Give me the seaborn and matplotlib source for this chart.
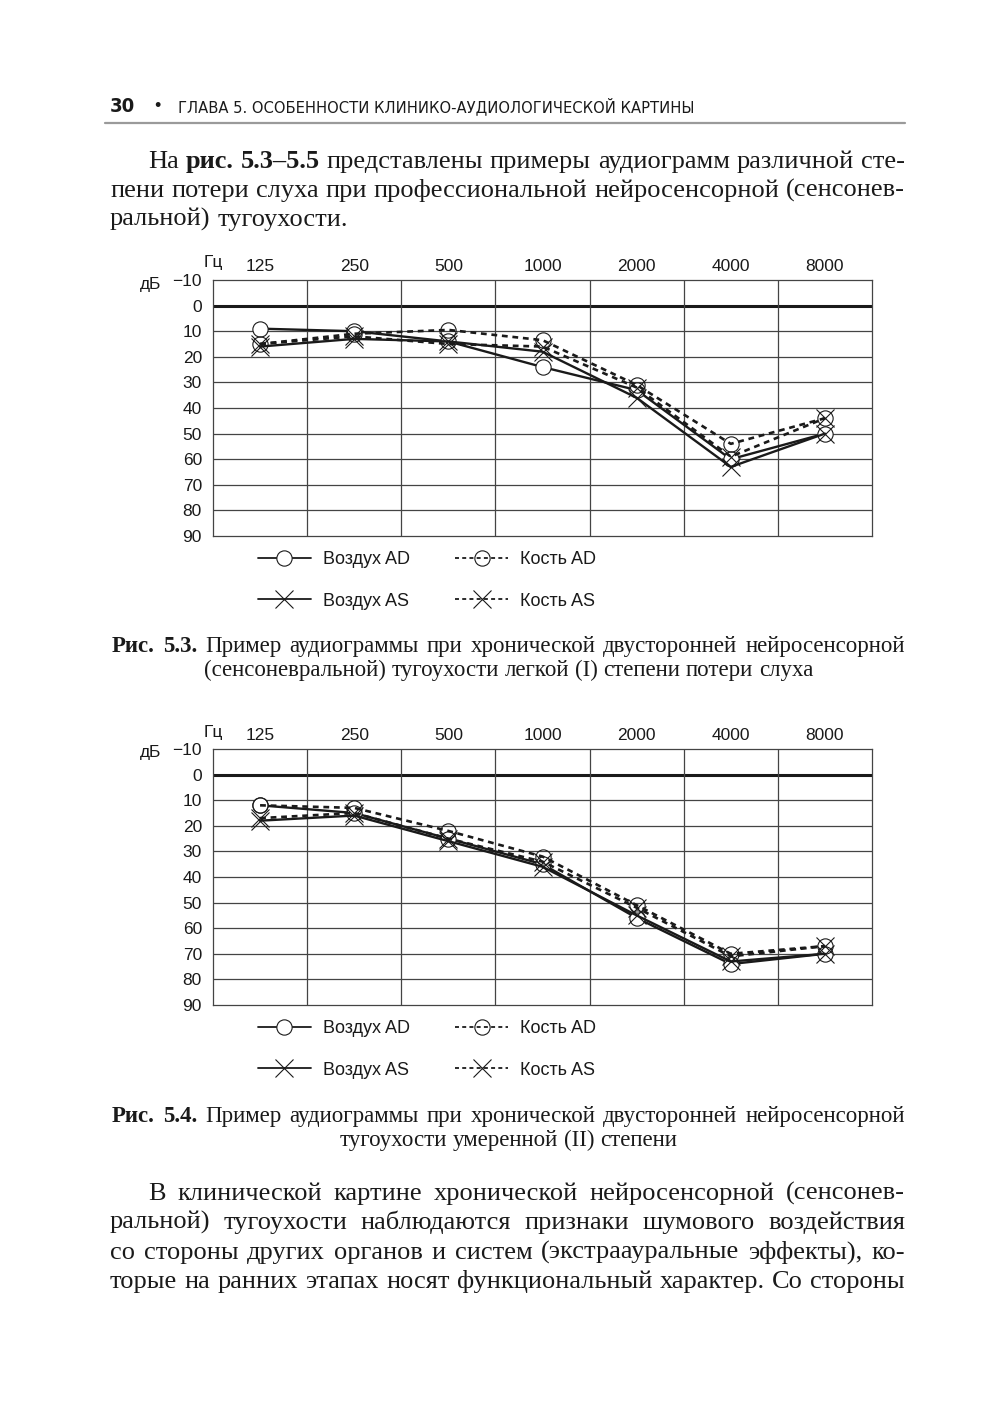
import pandas as pd
import matplotlib
matplotlib.use("Agg")
import matplotlib.pyplot as plt
from matplotlib.lines import Line2D
import seaborn as sns

# frequencies (Hz) and hearing levels (dB)
freqs = ["125", "250", "500", "1000", "2000", "4000", "8000"]
db_ticks = [-10, 0, 10, 20, 30, 40, 50, 60, 70, 80, 90]
db_labels = ["\u221210", "0", "10", "20", "30", "40", "50", "60", "70", "80", "90"]

fig53_air_ad = [9, 10, 14, 24, 33, 60, 50]
fig53_bone_ad = [15, 11, 9.5, 13.5, 31, 54, 44]
fig53_air_as = [16, 13, 14, 18, 36, 63, 50]
fig53_bone_as = [15, 12, 15, 16, 32, 59, 44]

fig54_air_ad = [12, 15, 25, 35, 56, 74, 70]
fig54_bone_ad = [12, 13, 22, 32, 51, 70, 67]
fig54_air_as = [18, 16, 26, 36, 55, 73, 70]
fig54_bone_as = [17, 15, 25, 34, 52, 71, 67]

series_names = ["Воздух AD", "Воздух AS", "Кость AD", "Кость AS"]

header = "ГЛАВА 5. ОСОБЕННОСТИ КЛИНИКО-АУДИОЛОГИЧЕСКОЙ КАРТИНЫ"

sns.set_theme(style="white")
plt.rcParams["font.family"] = ["Liberation Sans", "DejaVu Sans"]

W, H = 1000, 1420
fig = plt.figure(figsize=(W / 100, H / 100), dpi=100)
fig.patch.set_facecolor("white")
renderer = fig.canvas.get_renderer()

INK = "#1a1a1a"
GRID = "#444444"

styles = {
    "Воздух AD": dict(linestyle="-", marker="o", markersize=11, markerfacecolor="white",
                      markeredgecolor=INK, markeredgewidth=0.8, linewidth=1.7),
    "Воздух AS": dict(linestyle="-", marker="x", markersize=13, markeredgecolor=INK,
                      markeredgewidth=0.8, linewidth=1.7),
    "Кость AD": dict(linestyle=(0, (2.2, 1.8)), marker="o", markersize=11, markerfacecolor="none",
                     markeredgecolor=INK, markeredgewidth=0.8, linewidth=1.9),
    "Кость AS": dict(linestyle=(0, (2.2, 1.8)), marker="x", markersize=13, markeredgecolor=INK,
                     markeredgewidth=0.8, linewidth=1.9),
}


def px_rect(left, top, right, bottom):
    return [left / W, 1 - bottom / H, (right - left) / W, (bottom - top) / H]


def audiogram(rect, values, legend_top):
    ax = fig.add_axes(rect)
    rows = []
    for name, vals in zip(series_names, values):
        for i, v in enumerate(vals):
            rows.append({"series": name, "pos": i, "db": v})
    df = pd.DataFrame(rows)
    for name in series_names:
        sns.lineplot(data=df[df.series == name], x="pos", y="db", ax=ax, color=INK,
                     estimator=None, sort=False, errorbar=None, zorder=3, **styles[name])

    ax.set_xlim(-0.5, len(freqs) - 0.5)
    ax.set_ylim(90, -10)
    ax.set_yticks(db_ticks)
    ax.set_yticklabels(db_labels, fontsize=12.5, color=INK)
    ax.set_xticks(range(len(freqs)))
    ax.xaxis.tick_top()
    ax.set_xticklabels(freqs, fontsize=12.5, color=INK)
    ax.tick_params(axis="x", which="both", length=0, pad=4)
    ax.tick_params(axis="y", length=5, width=0.9, color=GRID, pad=3)
    ax.set_xlabel("")
    ax.set_ylabel("")
    ax.grid(False)
    for y in db_ticks[1:-1]:
        ax.axhline(y, color=INK if y == 0 else GRID, lw=2.2 if y == 0 else 0.9, zorder=1)
    for x in range(len(freqs) - 1):
        ax.axvline(x + 0.5, color=GRID, lw=0.9, zorder=1)
    for s in ax.spines.values():
        s.set_color(GRID)
        s.set_linewidth(0.9)

    # unit labels
    top_px = (1 - (rect[1] + rect[3])) * H
    fig.text(204 / W, 1 - (top_px - 17) / H, "Гц", fontsize=12.5, color=INK, va="center")
    fig.text(140 / W, 1 - (top_px + 4) / H, "дБ", fontsize=12.5, color=INK, va="center")

    handles = [Line2D([], [], color=INK, **styles[n]) for n in series_names]
    for h in handles:
        h.set_linewidth(1.3)
    fig.legend(handles=handles, labels=series_names, ncol=2, frameon=False,
               loc="upper left", bbox_to_anchor=(242 / W, 1 - legend_top / H),
               fontsize=13, handlelength=2.9, labelspacing=1.35, columnspacing=2.5,
               handletextpad=0.7, numpoints=1, labelcolor=INK)
    return ax


audiogram(px_rect(213, 280, 872, 536),
          [fig53_air_ad, fig53_air_as, fig53_bone_ad, fig53_bone_as], 535)
audiogram(px_rect(213, 749, 872, 1005),
          [fig54_air_ad, fig54_air_as, fig54_bone_ad, fig54_bone_as], 1004)


# ---- page text -------------------------------------------------------------
SERIF = ["Liberation Serif", "DejaVu Serif"]
N, B = "normal", "bold"


def split_words(runs):
    words = []
    for txt, weight in runs:
        for w in txt.split(" "):
            if w:
                words.append((w, weight))
    return words


def measure(s, size, weight=N):
    t = fig.text(0, 0, s, fontsize=size, fontweight=weight, family=SERIF)
    w = t.get_window_extent(renderer).width
    t.remove()
    return w


def space_width(size):
    return measure("a a", size) - measure("aa", size)


def fits(runs, x0, x1, size):
    words = split_words(runs)
    total = sum(measure(w, size, wt) for w, wt in words)
    return total + space_width(size) * (len(words) - 1) <= x1 - x0


def text_line(runs, baseline, x0, x1=None, align="left", size=18):
    words = split_words(runs)
    arts = []
    widths = []
    for w, weight in words:
        t = fig.text(0, 1 - baseline / H, w, fontsize=size, fontweight=weight,
                     family=SERIF, color=INK, va="baseline", ha="left")
        widths.append(t.get_window_extent(renderer).width)
        arts.append(t)
    sp_w = space_width(size)
    total = sum(widths)
    if align == "justify" and len(words) > 1:
        gap = (x1 - x0 - total) / (len(words) - 1)
        start = x0
    elif align == "center":
        gap = sp_w
        start = (x0 + x1) / 2 - (total + gap * (len(words) - 1)) / 2
    else:
        gap = sp_w
        start = x0
    x = start
    for t, w in zip(arts, widths):
        t.set_x(x / W)
        x += w + gap


body = [
    ([("На", N), ("рис. 5.3–5.5", B), ("представлены примеры аудиограмм различной сте-", N)], 168, 148, "justify"),
    ([("пени потери слуха при профессиональной нейросенсорной (сенсонев-", N)], 197, 110, "justify"),
    ([("ральной) тугоухости.", N)], 226, 110, "left"),
    ([("В клинической картине хронической нейросенсорной (сенсонев-", N)], 1200, 148, "justify"),
    ([("ральной) тугоухости наблюдаются признаки шумового воздействия", N)], 1229, 110, "justify"),
    ([("со стороны других органов и систем (экстраауральные эффекты), ко-", N)], 1259, 110, "justify"),
    ([("торые на ранних этапах носят функциональный характер. Со стороны", N)], 1288, 110, "justify"),
]

# largest common size that lets every justified line keep at least a normal space
body_size = 20.0
while body_size > 14 and not all(fits(r, x0, 905, body_size) for r, _, x0, a in body if a == "justify"):
    body_size -= 0.25

for runs, base, x0, align in body:
    text_line(runs, base, x0, 905, align, size=body_size)

text_line([("Рис. 5.3.", B), ("Пример аудиограммы при хронической двусторонней нейросенсорной", N)],
          652, 112, 905, "justify", size=16.5)
text_line([("(сенсоневральной) тугоухости легкой (I) степени потери слуха", N)],
          676, 112, 905, "center", size=16.5)
text_line([("Рис. 5.4.", B), ("Пример аудиограммы при хронической двусторонней нейросенсорной", N)],
          1122, 112, 905, "justify", size=16.5)
text_line([("тугоухости умеренной (II) степени", N)],
          1146, 112, 905, "center", size=16.5)

# running head
fig.text(110 / W, 1 - 112 / H, "30", fontsize=14.5, fontweight="bold",
         family=["DejaVu Sans"], fontstretch="condensed", color=INK, va="baseline")
fig.text(157 / W, 1 - 111 / H, "\u2022", fontsize=13, color=INK, va="baseline", ha="center")
fig.text(178 / W, 1 - 112 / H, header, fontsize=11.8,
         family=["DejaVu Sans"], fontstretch="condensed", color=INK, va="baseline")
fig.add_artist(Line2D([105 / W, 905 / W], [1 - 123 / H, 1 - 123 / H], color="#9a9a9a", lw=1.6))

fig.savefig("out.png", dpi=100, facecolor="white")
